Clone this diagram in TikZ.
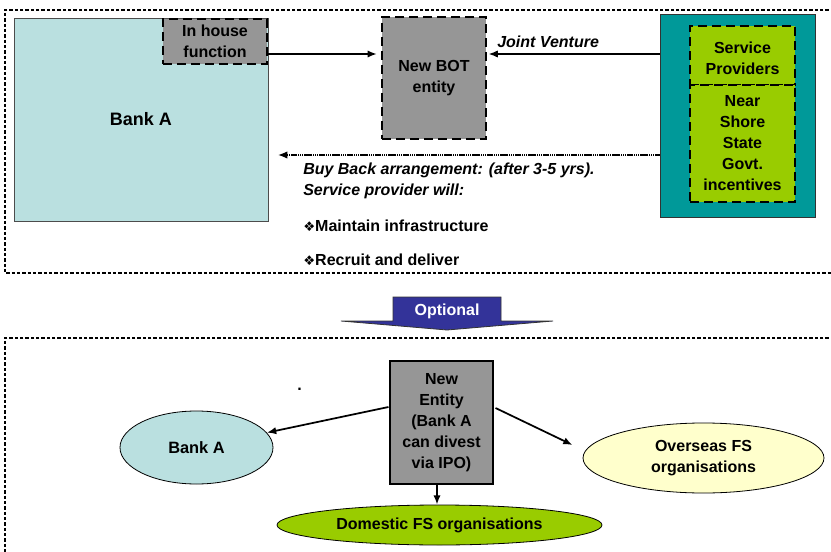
\documentclass[tikz,border=0pt]{standalone}
\usepackage{fontspec}
\setmainfont{Liberation Sans}
\newfontfamily\symfont{DejaVu Sans}
\usetikzlibrary{arrows.meta,shapes.geometric,calc}
\definecolor{bankfill}{RGB}{186,224,224}
\definecolor{tealfill}{RGB}{0,153,153}
\definecolor{greenfill}{RGB}{153,204,0}
\definecolor{grayfill}{RGB}{150,150,150}
\definecolor{yellowfill}{RGB}{255,255,204}
\definecolor{optblue}{RGB}{51,51,153}
\begin{document}
\begin{tikzpicture}[x=0.75pt,y=-0.75pt,
  font=\fontsize{12}{15.75}\selectfont\bfseries,
  frame/.style={dash pattern=on 2.6pt off 1.4pt, line width=0.9pt},
  thickdash/.style={draw=black, dash pattern=on 7pt off 3.5pt, line width=1.7pt},
  box/.style={rectangle, inner sep=0pt, align=center},
  oval/.style={ellipse, inner sep=0pt, draw=black, line width=0.6pt, align=center},
  arr/.style={-{Latex[length=7pt,width=5.5pt]}, line width=1.3pt},
  lbl/.style={inner sep=0pt, align=left}
]
\useasboundingbox (0,0) rectangle (831,552);
% frames
\draw[frame] (834,10) -- (5,10) -- (5,273) -- (834,273);
\draw[frame] (834,338) -- (5,338) -- (5,556);

% top part
\node[box, draw=black!70, line width=0.5pt, fill=bankfill, minimum width=190.5pt, minimum height=152.25pt, font=\fontsize{13.5}{16}\selectfont\bfseries] (bankA) at (141,119.5) {Bank A};
\node[box, thickdash, fill=grayfill, minimum width=78pt, minimum height=33.75pt] (inhouse) at (215,41.5) {In house\\function};
\node[box, thickdash, fill=grayfill, minimum width=78pt, minimum height=91.5pt] (bot) at (434,78) {New BOT\\entity};
\node[box, draw=black!80, line width=0.6pt, fill=tealfill, minimum width=116.25pt, minimum height=152.25pt] (teal) at (737.5,115.5) {};
\node[box, thickdash, fill=greenfill, minimum width=78.75pt, minimum height=44.25pt] (sp) at (742.5,55.5) {};
\node[box] (sptext) at (742.5,58.5) {Service\\Providers};
\node[box, thickdash, fill=greenfill, minimum width=78.75pt, minimum height=87.75pt] (ns) at (742.5,143.5) {Near\\Shore\\State\\Govt.\\incentives};

\coordinate (ihout) at ($(inhouse.east)+(0,12.5)$);
\draw[arr, shorten >=3pt] (ihout) -- (ihout -| bot.west);
\coordinate (jvstart) at (teal.west |- 0,54);
\draw[arr, shorten >=1pt] (jvstart) -- (jvstart -| bot.east);
\node[lbl, anchor=base west, font=\fontsize{12}{15.75}\selectfont\bfseries\itshape] (jv) at (497,48) {Joint Venture};

\coordinate (bbstart) at (teal.west |- 0,155);
\coordinate (bbend) at (278,155);
\draw[-{Latex[length=7pt,width=5.5pt]}, dash pattern=on 1pt off 0.4pt, line width=1pt] (bbstart) -- (bbend);
\node[lbl, anchor=north west, font=\fontsize{12}{15.5}\selectfont\bfseries\itshape] (bbtext) at (303,163) {Buy Back arrangement: (after 3-5 yrs).\\Service provider will:};
\node[lbl, anchor=base west] (b1) at (303,232) {{\symfont\fontsize{10}{10}\selectfont ❖}Maintain infrastructure};
\node[lbl, anchor=base west] (b2) at (303,266) {{\symfont\fontsize{10}{10}\selectfont ❖}Recruit and deliver};

% optional arrow
\draw[fill=optblue, draw=black!80, line width=0.6pt] (393,297) -- (501,297) -- (501,321) -- (553,321) -- (447,330) -- (341,321) -- (393,321) -- cycle;
\node[inner sep=0pt, text=white] (opt) at (447,311) {Optional};

% bottom part
\node[inner sep=0pt, anchor=base] (dot) at (299.5,390.5) {.};
\node[box, draw=black, line width=0.8pt, fill=grayfill, minimum width=77.25pt, minimum height=92.25pt] (newent) at (441.5,422.5) {New\\Entity\\(Bank A\\can divest\\via IPO)};
\node[oval, fill=bankfill, minimum width=114.75pt, minimum height=54.75pt, font=\fontsize{12.3}{15}\selectfont\bfseries] (bankB) at (196.5,447.5) {Bank A};
\node[oval, fill=yellowfill, minimum width=180.75pt, minimum height=52.5pt] (overseas) at (703.5,458) {Overseas FS\\organisations};
\node[oval, fill=greenfill, minimum width=243.75pt, minimum height=30pt] (domestic) at (439.5,525) {Domestic FS organisations};

\coordinate (ne1) at ($(newent.west)+(-1,-15.5)$);
\draw[arr] (ne1) -- (bankB);
\coordinate (ne2) at ($(newent.east)+(2,-14.5)$);
\coordinate (ov1) at ($(overseas.west)+(-10,-13)$);
\draw[arr] (ne2) -- (ov1);
\coordinate (ne3) at ($(newent.south)+(-4.5,0)$);
\draw[arr] (ne3) -- (ne3 |- domestic.north);
\end{tikzpicture}
\end{document}
